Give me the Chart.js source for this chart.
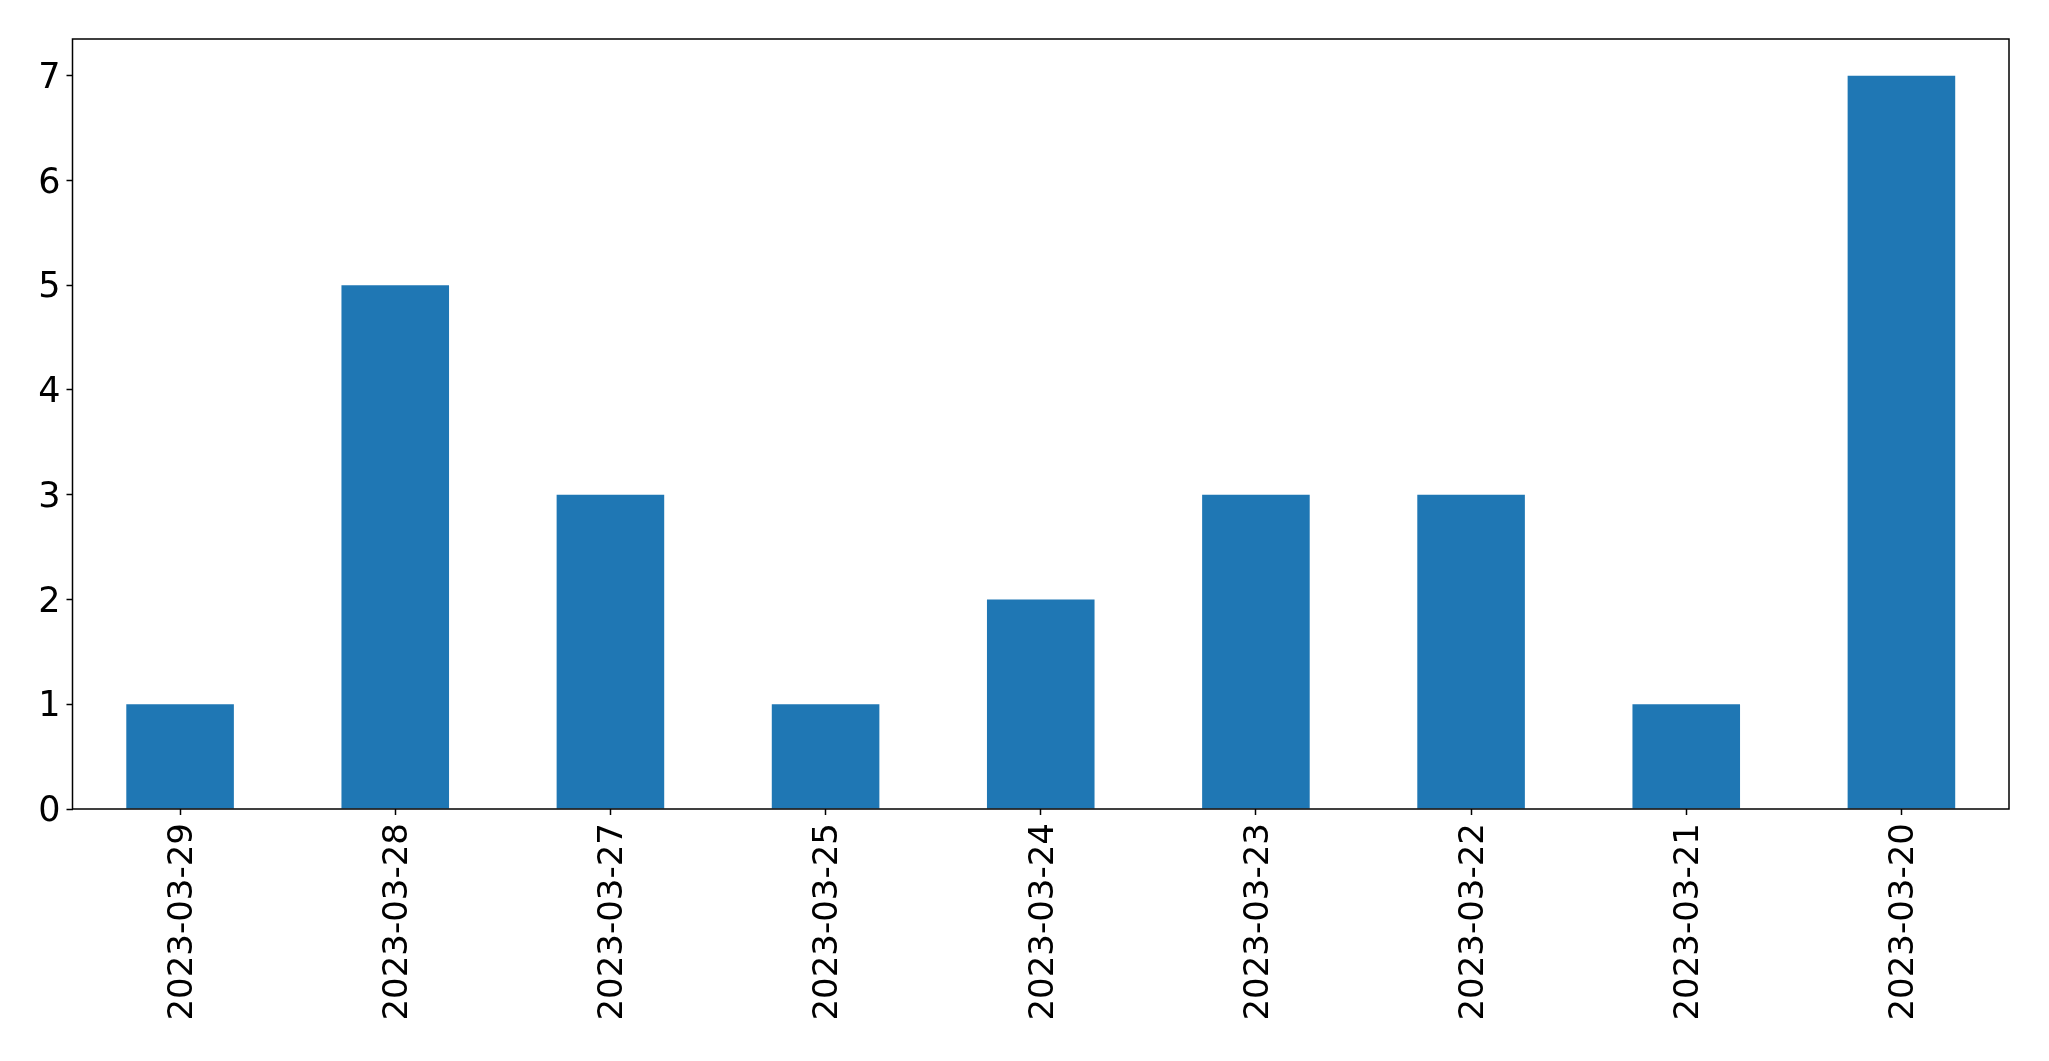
<!DOCTYPE html>
<html>
<head>
<meta charset="utf-8">
<script src="https://cdn.jsdelivr.net/npm/chart.js@4/dist/chart.umd.min.js"></script>
<style>
    html, body { margin: 0; padding: 0; background: #ffffff; overflow: hidden; }
    #chart { display: block; }
</style>
</head>
<body>
<canvas id="chart" width="2049" height="1061"></canvas>
<script>
// Chart data
const dates = ["2023-03-29", "2023-03-28", "2023-03-27", "2023-03-25", "2023-03-24",
               "2023-03-23", "2023-03-22", "2023-03-21", "2023-03-20"];
const counts = [1, 5, 3, 1, 2, 3, 3, 1, 7];
const yTicks = [0, 1, 2, 3, 4, 5, 6, 7];

// Draw the full frame round the plot area (top and right too)
const framePlugin = {
    id: "frame",
    afterDraw(chart) {
        const { ctx, chartArea } = chart;
        ctx.save();
        ctx.strokeStyle = "#000000";
        ctx.lineWidth = 1.5;
        ctx.strokeRect(chartArea.left, chartArea.top,
                       chartArea.right - chartArea.left, chartArea.bottom - chartArea.top);
        ctx.restore();
    },
};

const ctx = document.getElementById("chart").getContext("2d");

new Chart(ctx, {
    type: "bar",
    data: {
        labels: dates,
        datasets: [{
            data: counts,
            backgroundColor: "#1f77b4",
            borderWidth: 0,
            barPercentage: 0.5,
            categoryPercentage: 1.0,
        }],
    },
    options: {
        responsive: false,
        animation: false,
        devicePixelRatio: 1,
        layout: { padding: { top: 39, right: 40, left: 0, bottom: 0 } },
        plugins: {
            legend: { display: false },
            tooltip: { enabled: false },
        },
        scales: {
            x: {
                offset: true,
                grid: {
                    offset: false,
                    drawOnChartArea: false,
                    color: "#000000",
                    tickLength: 6,
                    tickWidth: 1.5,
                },
                border: { display: false },
                ticks: {
                    color: "#000000",
                    font: { family: "DejaVu Sans", size: 34 },
                    minRotation: 90,
                    maxRotation: 90,
                    padding: 8,
                    labelOffset: 3,
                    autoSkip: false,
                },
                afterFit(scale) { scale.height = 252; },
            },
            y: {
                min: 0,
                max: 7.35,
                afterBuildTicks(scale) {
                    scale.ticks = yTicks.map((v) => ({ value: v }));
                },
                grid: {
                    drawOnChartArea: false,
                    color: "#000000",
                    tickLength: 6,
                    tickWidth: 1.5,
                },
                border: { display: false },
                ticks: {
                    color: "#000000",
                    font: { family: "DejaVu Sans", size: 35 },
                    padding: 6,
                    labelOffset: 3,
                },
                afterFit(scale) { scale.width = 72.5; },
            },
        },
    },
    plugins: [framePlugin],
});
</script>
</body>
</html>
